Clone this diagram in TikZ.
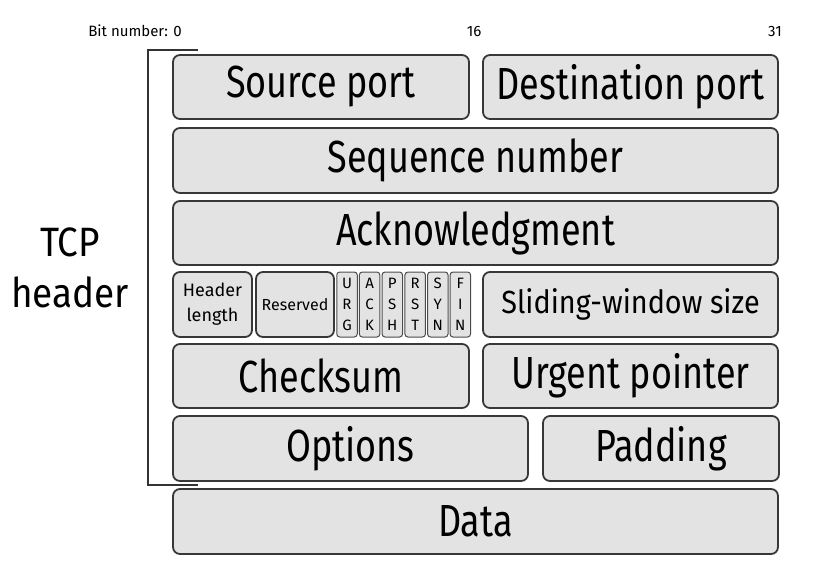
\documentclass[tikz,border=0pt]{standalone}
\usepackage{fontspec}
\setmainfont{Fira Sans}
\newfontfamily\cond[FakeStretch=0.8]{Fira Sans}
\newfontfamily\condb[FakeStretch=0.9]{Fira Sans}
\begin{document}
\begin{tikzpicture}[x=1pt,y=-1pt,
  box/.style={draw=black!78, line width=1.8pt, fill=black!11, rounded corners=7pt,
    inner sep=0pt, font=\cond\fontsize{45}{47}\selectfont},
  flag/.style={draw=black!70, line width=1pt, fill=black!11, rounded corners=3pt,
    inner sep=0pt, minimum width=20.5, minimum height=65, align=center,
    font=\rmfamily\fontsize{15}{21}\selectfont},
  lbl/.style={inner sep=0pt, font=\rmfamily\fontsize{15}{17}\selectfont},
  bracket/.style={draw=black!80, line width=1.6pt}]
\useasboundingbox (0,0) rectangle (823,574);
% bit labels
\node[lbl] (b0) at (135,31) {Bit number: 0};
\node[lbl] (b16) at (474,31) {16};
\node[lbl] (b31) at (775,31) {31};
% bracket
\coordinate (bt) at (198,50);
\coordinate (bb) at (198,485);
\draw[bracket] (bt) -- (148,50) -- (148,485) -- (bb);
\node[inner sep=0pt, align=center, font=\condb\fontsize{41}{51}\selectfont] (tcp) at (70,268) {TCP\\header};
% row 1
\node[box, minimum width=296, minimum height=64] (src) at (321,87) {Source port};
\node[box, minimum width=295, minimum height=64] (dst) at (630.5,87) {Destination port};
% row 2
\node[box, minimum width=605, minimum height=65] (seq) at (475.5,160.5) {Sequence number};
% row 3
\node[box, minimum width=605, minimum height=64] (ack) at (475.5,233) {Acknowledgment};
% row 4
\node[box, minimum width=79, minimum height=65, align=center, font=\rmfamily\fontsize{18}{25}\selectfont] (hl) at (212.5,304.5) {Header\\length};
\node[box, minimum width=78, minimum height=65, font=\rmfamily\fontsize{16}{18}\selectfont] (res) at (295,304.5) {Reserved};
\node[flag] (urg) at (347,304.5) {U\\R\\G};
\node[flag] (ackf) at (369.6,304.5) {A\\C\\K};
\node[flag] (psh) at (392.3,304.5) {P\\S\\H};
\node[flag] (rst) at (415.2,304.5) {R\\S\\T};
\node[flag] (syn) at (437.8,304.5) {S\\Y\\N};
\node[flag] (fin) at (460.3,304.5) {F\\I\\N};
\node[box, minimum width=295, minimum height=65, font=\condb\fontsize{32}{34}\selectfont] (win) at (630.5,304.5) {Sliding-window size};
% row 5
\node[box, minimum width=296, minimum height=64] (chk) at (321,376) {Checksum};
\node[box, minimum width=295, minimum height=64] (urp) at (630.5,376) {Urgent pointer};
% row 6
\node[box, minimum width=355, minimum height=65] (opt) at (350.5,448.5) {Options};
\node[box, minimum width=236, minimum height=65] (pad) at (661,448.5) {Padding};
% data
\node[box, minimum width=605, minimum height=65] (data) at (475.5,521.5) {Data};
\end{tikzpicture}
\end{document}
